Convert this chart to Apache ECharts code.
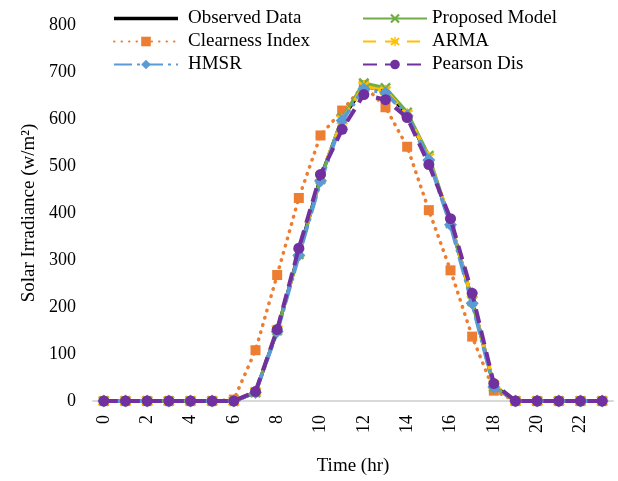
<!DOCTYPE html>
<html><head><meta charset="utf-8">
<script src="https://cdn.jsdelivr.net/npm/echarts@6/dist/echarts.min.js"></script>
<style>html,body{margin:0;padding:0;background:#fff}#c{width:618px;height:481px}</style>
</head><body><div id="c"></div>
<script>
var hours = ['0','1','2','3','4','5','6','7','8','9','10','11','12','13','14','15','16','17','18','19','20','21','22','23'];
var yTicks = [0,100,200,300,400,500,600,700,800];
var observed   = [0,0,0,0,0,0,0,18,150,315,475,600,670,660,610,515,380,215,32,0,0,0,0,0];
var proposed   = [0,0,0,0,0,0,0,18,150,312,472,602,676,666,614,522,378,212,30,0,0,0,0,0];
var clearness  = [0,0,0,0,0,0,3,108,268,432,565,618,672,625,541,406,278,137,22,0,0,0,0,0];
var arma       = [0,0,0,0,0,0,0,20,152,315,478,598,670,660,610,518,382,215,35,0,0,0,0,0];
var hmsr       = [0,0,0,0,0,0,0,18,148,310,468,597,664,656,607,513,375,208,30,0,0,0,0,0];
var pearson    = [0,0,0,0,0,0,0,20,152,325,482,578,652,641,603,503,388,229,37,0,0,0,0,0];

var F = '"Liberation Serif","Times New Roman",serif';
var crossPath = 'path://M1.6,0L5,3.4L8.4,0L10,1.6L6.6,5L10,8.4L8.4,10L5,6.6L1.6,10L0,8.4L3.4,5L0,1.6Z';
var starPath = 'path://M1.6,0L5,3.4L8.4,0L10,1.6L6.6,5L10,8.4L8.4,10L5,6.6L1.6,10L0,8.4L3.4,5L0,1.6ZM4.3,-1L5.7,-1L5.7,11L4.3,11Z';
var lineIcon = 'path://M0,0L0.01,0L0.01,0.01L0,0.01ZM0,4.3L66,4.3L66,7.7L0,7.7ZM65.99,11.99L66,11.99L66,12L65.99,12Z';

var chart = echarts.init(document.getElementById('c'), null, {renderer:'canvas'});
chart.setOption({
  animation:false,
  backgroundColor:'#fff',
  grid:{left:93, right:5, top:25, bottom:73, containLabel:false},
  legend:[
    {data:[{name:'Observed Data', icon:lineIcon},'Clearness Index','HMSR'], orient:'vertical', left:108, top:4, itemWidth:64, itemHeight:12, itemGap:4,
     textStyle:{fontFamily:F, fontSize:19, color:'#000', padding:[0,0,0,5]}},
    {data:['Proposed Model','ARMA','Pearson Dis'], orient:'vertical', left:357, top:4, itemWidth:64, itemHeight:12, itemGap:4,
     textStyle:{fontFamily:F, fontSize:19, color:'#000'}}
  ],
  xAxis:{type:'category', data:hours, boundaryGap:true,
    name:'Time (hr)', nameLocation:'middle', nameGap:56,
    nameTextStyle:{fontFamily:F, fontSize:19, color:'#000'},
    axisLine:{lineStyle:{color:'#d9d9d9', width:2}},
    axisTick:{show:false},
    axisLabel:{rotate:90, interval:1, margin:14, fontFamily:F, fontSize:18, color:'#000'}
  },
  yAxis:{type:'value', min:0, max:800, interval:100,
    name:'Solar Irradiance (w/m²)', nameLocation:'middle', nameGap:54,
    nameTextStyle:{fontFamily:F, fontSize:19, color:'#000'},
    axisLine:{show:false}, axisTick:{show:false}, splitLine:{show:false},
    axisLabel:{margin:17, fontFamily:F, fontSize:18, color:'#000'}
  },
  series:[
    {name:'Observed Data', type:'line', data:observed, symbol:'none', showSymbol:false,
     lineStyle:{color:'#000', width:3.5}, itemStyle:{color:'#000'}, z:1},
    {name:'Clearness Index', type:'line', data:clearness, symbol:'rect', symbolSize:10,
     lineStyle:{color:'#ED7D31', width:3.5, type:[0.5,7], cap:'round'}, itemStyle:{color:'#ED7D31'}, z:2},
    {name:'Proposed Model', type:'line', data:proposed, symbol:crossPath, symbolSize:11,
     lineStyle:{color:'#70AD47', width:3.5}, itemStyle:{color:'#70AD47'}, z:3},
    {name:'ARMA', type:'line', data:arma, symbol:starPath, symbolSize:12,
     lineStyle:{color:'#FFC000', width:3.5, type:[13,9]}, itemStyle:{color:'#FFC000'}, z:4},
    {name:'HMSR', type:'line', data:hmsr, symbol:'diamond', symbolSize:13,
     lineStyle:{color:'#5B9BD5', width:4, type:[18,5,3,5]}, itemStyle:{color:'#5B9BD5'}, z:5},
    {name:'Pearson Dis', type:'line', data:pearson, symbol:'circle', symbolSize:11,
     lineStyle:{color:'#7030A0', width:4, type:[14,8]}, itemStyle:{color:'#7030A0'}, z:6}
  ]
});
</script></body></html>
